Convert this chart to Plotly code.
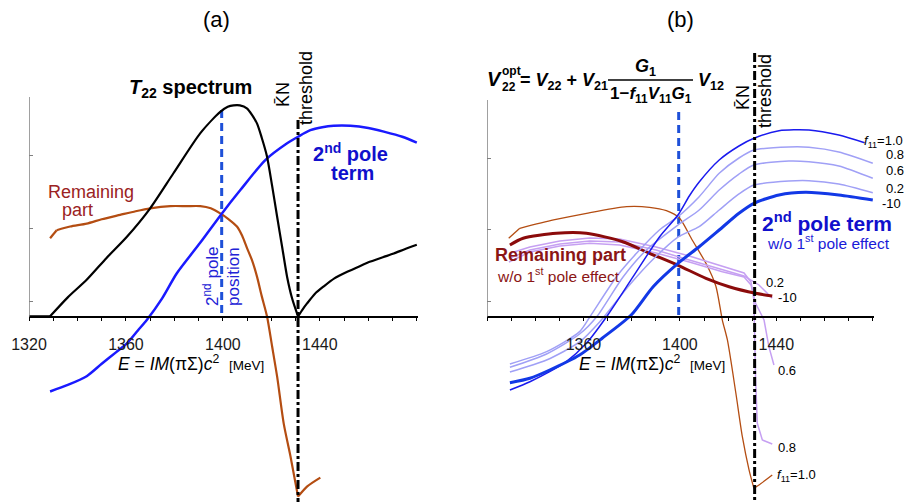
import plotly.graph_objects as go

W, H = 905, 502
FONT = "Liberation Sans, Arial, sans-serif"

def px(x):
    return x / W

def py(y):
    return 1 - y / H

# ---------------- data ----------------
pole_E = 1399.5
threshold_E = 1431.0
tick_labels_a = [1320, 1360, 1400, 1440]
tick_labels_b = [1360, 1400, 1440]

# panel (a)
a_T22_E = [1320, 1328.7, 1336, 1343.8, 1352, 1360.4, 1370, 1379.6, 1390.7, 1398.9, 1402, 1404.4, 1407,
           1409.9, 1412, 1414.1, 1416, 1418.2, 1420.3, 1422.4, 1424.5, 1426.5, 1428.6, 1431, 1433, 1434.8,
           1438, 1441.6, 1446, 1451.3, 1456, 1460.9, 1466, 1470.5, 1475, 1480]
a_T22 = [-0.21, -0.21, 0.05, 0.29, 0.59, 0.88, 1.27, 1.75, 2.30, 2.59, 2.66, 2.68, 2.68,
         2.64, 2.55, 2.43, 2.24, 1.98, 1.58, 1.15, 0.73, 0.33, 0.03, -0.21, -0.11, -0.03,
         0.10, 0.20, 0.31, 0.40, 0.47, 0.54, 0.60, 0.65, 0.71, 0.77]

a_pole_E = [1328.7, 1336, 1343.8, 1350, 1356, 1360.4, 1365, 1368.6, 1375, 1381, 1390.7, 1399.6, 1407.2,
            1417.5, 1426.5, 1431, 1436.1, 1441, 1445.7, 1452.6, 1460, 1466.4, 1474, 1480]
a_pole = [-1.24, -1.15, -1.03, -0.86, -0.70, -0.58, -0.40, -0.26, 0.04, 0.38, 0.80, 1.20, 1.52,
          1.93, 2.16, 2.25, 2.34, 2.38, 2.40, 2.40, 2.37, 2.32, 2.25, 2.17]

a_rem_E = [1328.7, 1331.4, 1337, 1343.8, 1350, 1357.6, 1364, 1370, 1378.3, 1385, 1390.7, 1395, 1398.9,
           1402, 1405.8, 1408, 1410, 1412, 1414.1, 1416, 1418.2, 1420.3, 1422.4, 1425.1, 1427.9, 1431,
           1434.8, 1440.2]
a_rem = [0.86, 0.97, 1.02, 1.06, 1.12, 1.18, 1.23, 1.27, 1.30, 1.30, 1.30, 1.27, 1.20,
         1.13, 1.02, 0.89, 0.72, 0.56, 0.33, 0.07, -0.21, -0.62, -1.04, -1.68, -2.13, -2.68,
         -2.54, -2.42]

# panel (b): 2nd pole term for f11 = 1.0, 0.8, 0.6, 0.2, -10
f_labels = ["1.0", "0.8", "0.6", "0.2", "-10"]

b_pole10_E = [1329.5, 1337.8, 1346.0, 1352.9, 1361.2, 1370.1, 1380.6, 1391.6, 1399.2, 1403.9, 1408.0,
              1416.3, 1424.5, 1430.7, 1441.1, 1453.5, 1465.9, 1476.6]
b_pole10 = [-1.245, -1.129, -0.989, -0.849, -0.592, -0.196, 0.340, 0.899, 1.203, 1.469, 1.664,
            1.972, 2.168, 2.276, 2.382, 2.392, 2.322, 2.214]

b_pole08_E = [1329.5, 1344.7, 1358.4, 1362.7, 1373.7, 1382.0, 1391.5, 1399.2, 1408.0, 1416.3, 1424.5,
              1430.7, 1445.2, 1453.5, 1465.9, 1480]
b_pole08 = [-0.881, -0.709, -0.429, -0.220, 0.340, 0.667, 0.993, 1.179, 1.459, 1.786, 2.000,
            2.112, 2.154, 2.150, 2.084, 1.926]

b_pole06_E = [1329.5, 1344.7, 1358.4, 1365.5, 1376.5, 1386.1, 1399.2, 1408.0, 1416.3, 1424.5, 1430.7,
              1445.2, 1453.5, 1465.9, 1480]
b_pole06 = [-0.927, -0.741, -0.462, -0.220, 0.340, 0.713, 1.063, 1.273, 1.552, 1.776, 1.902,
            1.958, 1.948, 1.888, 1.716]

b_pole02_E = [1329.5, 1344.7, 1358.4, 1366.7, 1379.1, 1389.4, 1399.2, 1408.0, 1416.3, 1424.5, 1430.7,
              1445.2, 1453.5, 1465.9, 1480]
b_pole02 = [-0.993, -0.825, -0.573, -0.294, 0.224, 0.601, 0.895, 1.039, 1.273, 1.497, 1.622,
            1.678, 1.683, 1.636, 1.515]

b_polem10_E = [1329.5, 1337.8, 1346.0, 1358.4, 1367.9, 1379.8, 1388.9, 1399.2, 1408.0, 1416.3, 1424.5,
               1430.7, 1441.1, 1452.1, 1465.9, 1480]
b_polem10 = [-1.143, -1.080, -0.965, -0.755, -0.517, -0.196, 0.200, 0.527, 0.759, 0.993, 1.227,
             1.366, 1.483, 1.520, 1.483, 1.413]

# panel (b): remaining part for f11 = 1.0, 0.8, 0.6, 0.2, -10
b_rem10_E = [1329.0, 1333.6, 1347.6, 1361.3, 1377.9, 1387.4, 1394.4, 1399.8, 1405.1, 1410.8, 1414.9,
             1417.6, 1419.7, 1423.2, 1425.9, 1428.7, 1430.7, 1432.8, 1438.3]
b_rem10 = [0.877, 1.017, 1.133, 1.227, 1.319, 1.310, 1.263, 1.161, 0.853, 0.527, 0.210,
           -0.266, -0.545, -1.287, -1.898, -2.364, -2.620, -2.573, -2.434]

b_rem08_E = [1329.5, 1337.8, 1350.2, 1362.6, 1375.0, 1390.1, 1403.9, 1417.5, 1426.6, 1429.5, 1430.7,
             1431.4, 1432.1, 1434.2, 1438.3]
b_rem08 = [0.667, 0.755, 0.839, 0.881, 0.867, 0.755, 0.629, 0.490, 0.392, 0.266, 0.014,
           -1.105, -1.710, -1.944, -2.000]

b_rem06_E = [1329.1, 1337.8, 1350.2, 1362.6, 1375.0, 1390.1, 1403.9, 1417.6, 1426.6, 1429.5, 1431.4,
             1434.9, 1436.9, 1439.0]
b_rem06 = [0.545, 0.685, 0.769, 0.807, 0.783, 0.671, 0.545, 0.410, 0.336, 0.224, -0.032,
           -0.266, -0.639, -0.895]

b_rem02_E = [1329.5, 1337.8, 1350.2, 1362.6, 1375.0, 1390.1, 1403.9, 1417.5, 1426.6, 1432.8, 1438.3]
b_rem02 = [0.601, 0.713, 0.797, 0.839, 0.825, 0.713, 0.573, 0.434, 0.350, 0.224, 0.038]

b_remm10_E = [1329.5, 1335.0, 1348.8, 1361.2, 1376.3, 1387.4, 1399.0, 1410.8, 1420.4, 1431.4, 1438.3]
b_remm10 = [0.783, 0.877, 0.947, 0.947, 0.829, 0.667, 0.503, 0.317, 0.200, 0.108, 0.070]

# ---------------- figure ----------------
fig = go.Figure()


def line(xs, ys, color, width, axis, dash=None, shape="spline", breaks=()):
    """Draw a curve; split it at the given x values (cusps) so splines keep the corners."""
    xa, ya = ("x", "y") if axis == "a" else ("x2", "y2")
    cut = [0] + [xs.index(b) for b in breaks] + [len(xs) - 1]
    for i0, i1 in zip(cut[:-1], cut[1:]):
        fig.add_trace(go.Scatter(x=xs[i0:i1 + 1], y=ys[i0:i1 + 1], mode="lines", xaxis=xa, yaxis=ya,
                                 hoverinfo="skip", showlegend=False,
                                 line=dict(color=color, width=width, dash=dash, shape=shape,
                                           smoothing=0.7)))


BROWN = "#b44d12"
DASH_BLUE = "#1e50d8"
LIGHT = "#a0a0f6"
PURPLE = "#c6a0f2"
DARKRED = "#8b0b0b"

# panel (a)
line([pole_E, pole_E], [2.616, -0.2], DASH_BLUE, 3, "a", dash="8px,5px", shape="linear")
line(a_rem_E, a_rem, BROWN, 2.2, "a", breaks=[1331.4, threshold_E])
line(a_pole_E, a_pole, "#1a1aff", 2.5, "a")
line(a_T22_E, a_T22, "black", 2.2, "a", breaks=[1328.7, threshold_E])
line([threshold_E, threshold_E], [2.48, -2.76], "black", 3, "a", dash="9px,3px,3px,3px", shape="linear")

# panel (b)
line([pole_E, pole_E], [2.643, -0.21], DASH_BLUE, 3, "b", dash="8px,5px", shape="linear")
line(b_rem10_E, b_rem10, BROWN, 1.3, "b", breaks=[1333.6, 1430.7])
line(b_rem08_E, b_rem08, PURPLE, 1.5, "b", shape="linear")
line(b_rem06_E, b_rem06, PURPLE, 1.5, "b", shape="linear")
line(b_rem02_E, b_rem02, PURPLE, 1.5, "b", shape="linear")
line(b_remm10_E, b_remm10, DARKRED, 3, "b")
line(b_pole08_E, b_pole08, LIGHT, 1.5, "b")
line(b_pole06_E, b_pole06, LIGHT, 1.5, "b")
line(b_pole02_E, b_pole02, LIGHT, 1.5, "b")
line(b_pole10_E, b_pole10, "#1a1aee", 1.5, "b")
line(b_polem10_E, b_polem10, "#1238e6", 3, "b")
line([threshold_E, threshold_E], [3.47, -2.82], "black", 3, "b", dash="9px,3px,3px,3px", shape="linear")

# y-axis lines (only above the E axis)
fig.add_shape(type="line", xref="x", yref="y", x0=1320, x1=1320, y0=-0.215, y1=2.795,
              line=dict(color="#808080", width=1.5))
fig.add_shape(type="line", xref="x2", yref="y2", x0=1320, x1=1320, y0=-0.22, y1=2.81,
              line=dict(color="#808080", width=1.5))
# fraction bar of the formula
fig.add_shape(type="line", xref="paper", yref="paper", x0=px(608), x1=px(693), y0=py(80), y1=py(80),
              line=dict(color="black", width=1.5))

xpos = (H - 316.7) / H
xcommon = dict(range=[1320, 1480.5], anchor="free", position=xpos, showline=True, linecolor="black",
               linewidth=1.5, ticks="outside", ticklen=4, tickcolor="black", tickwidth=1,
               showgrid=False, zeroline=False, tickmode="array", ticklabelstandoff=9, automargin=False,
               tickfont=dict(family=FONT, size=16, color="#1a1a1a"),
               minor=dict(tickmode="linear", tick0=1320, dtick=10, ticks="outside", ticklen=4,
                          tickcolor="black", tickwidth=1, showgrid=False))
ycommon = dict(showgrid=False, zeroline=False, showticklabels=False, ticks="inside", ticklen=4,
               tickcolor="#808080", tickvals=[0, 1, 2], showline=False, automargin=False)

fig.update_layout(
    template="none",
    width=W, height=H, margin=dict(l=0, r=0, t=0, b=0, autoexpand=False),
    paper_bgcolor="white", plot_bgcolor="white",
    xaxis=dict(domain=[px(29), px(418)], tickvals=tick_labels_a, **xcommon),
    yaxis=dict(domain=[0, 1], anchor="x", range=[-201 / 73, 301 / 73], **ycommon),
    xaxis2=dict(domain=[px(487), px(874)], tickvals=tick_labels_b, **xcommon),
    yaxis2=dict(domain=[0, 1], anchor="x2", range=[-201 / 71.5, 301 / 71.5], **ycommon),
)


def ann(text, x, y, size, color="black", xanchor="center", angle=0):
    fig.add_annotation(text=text, x=px(x), y=py(y), xref="paper", yref="paper", showarrow=False,
                       font=dict(family=FONT, size=size, color=color), xanchor=xanchor,
                       yanchor="middle", textangle=angle, borderpad=0)


KN = "K\u0304N"
axis_title = "<i>E</i> = <i>IM</i>(πΣ)<i>c</i><sup>2</sup>  <span style='font-size:13.5px'>[MeV]</span>"

# panel (a) texts
ann("(a)", 216, 20, 22)
ann("<b><i>T</i><sub>22</sub> spectrum</b>", 190, 88, 20)
ann(KN, 283, 95, 18, angle=-90)
ann("threshold", 306, 88, 18, angle=-90)
ann("<b>2<sup>nd</sup> pole</b>", 350, 153, 20, "#1010cc")
ann("<b>term</b>", 352, 173, 20, "#1010cc")
ann("Remaining", 91, 192, 18, "#9b2222")
ann("part", 77, 210, 18, "#9b2222")
ann("2<sup>nd</sup> pole", 211, 276, 17, "#2222d6", angle=-90)
ann("position", 233, 277, 17, "#2222d6", angle=-90)
ann(axis_title, 191, 363, 17.5)

# panel (b) texts
ann("(b)", 680, 20, 22)
ann("<b><i>V</i></b>", 494, 79, 20)
ann("<b>opt</b>", 501, 71, 12, xanchor="left")
ann("<b>22</b>", 501, 87, 12, xanchor="left")
ann("<b>= <i>V</i><sub>22</sub> + <i>V</i><sub>21</sub></b>", 519, 82, 18, xanchor="left")
ann("<b><i>G</i><sub>1</sub></b>", 645, 67, 18)
ann("<b>1−<i>f</i><sub>11</sub><i>V</i><sub>11</sub><i>G</i><sub>1</sub></b>", 651, 95, 17)
ann("<b><i>V</i><sub>12</sub></b>", 697, 82, 18, xanchor="left")
ann(KN, 743, 98, 18, angle=-90)
ann("threshold", 765, 91, 18, angle=-90)
ann("<b>2<sup>nd</sup> pole term</b>", 827, 222, 21, "#1010cc")
ann("w/o 1<sup>st</sup> pole effect", 828, 242, 15.5, "#1a1ad8")
ann("<b>Remaining part</b>", 560, 255, 18, "#8b1515")
ann("w/o 1<sup>st</sup> pole effect", 558, 275, 15.5, "#8b1515")
ann(axis_title, 652, 363, 17.5)

# f11 labels of the 2nd pole term (right ends)
ann("<i>f</i><sub>11</sub>=" + f_labels[0], 863, 141, 13, xanchor="left")
ann(f_labels[1], 885, 155, 13, xanchor="left")
ann(f_labels[2], 885, 171, 13, xanchor="left")
ann(f_labels[3], 885, 188, 13, xanchor="left")
ann(f_labels[4], 881, 203, 13, xanchor="left")

# f11 labels of the remaining part
ann(f_labels[3], 765, 282, 13, xanchor="left")
ann(f_labels[4], 777, 297, 13, xanchor="left")
ann(f_labels[2], 777, 370, 13, xanchor="left")
ann(f_labels[1], 777, 447, 13, xanchor="left")
ann("<i>f</i><sub>11</sub>=" + f_labels[0], 776, 475, 13, xanchor="left")

fig.write_html("out.html")
